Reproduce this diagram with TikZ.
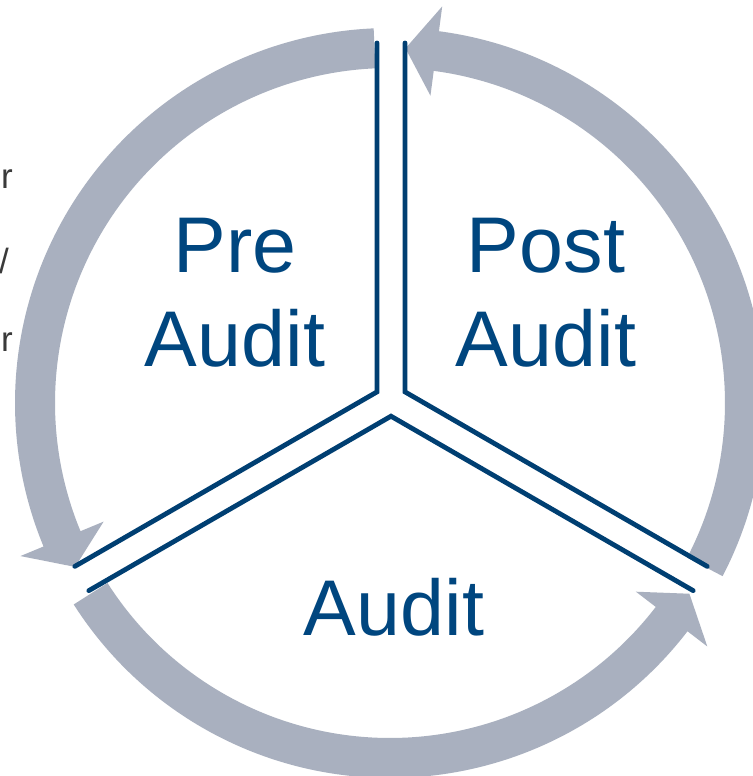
\documentclass[tikz,border=0pt]{standalone}
\usepackage{fontspec}
\setmainfont{Liberation Sans}
\usepackage{xcolor}
\usepackage{tikz}
\usetikzlibrary{calc}
\definecolor{bg}{HTML}{FFFFFF}
\definecolor{ring}{HTML}{A9B0BF}
\definecolor{navy}{HTML}{003F72}
\definecolor{ink}{HTML}{00467F}
\definecolor{muted}{HTML}{3A3A3A}
\tikzset{
  band/.style={fill=ring, draw=none},
  wall/.style={draw=navy, line width=4.8pt, line cap=round, line join=miter},
  lab/.style={text=ink, font=\fontsize{79}{94}\selectfont, align=center, inner sep=0pt},
  edge/.style={text=muted, font=\fontsize{35}{40}\selectfont, inner sep=0pt, anchor=base east},
}

\begin{document}
\begin{tikzpicture}[x=1pt, y=1pt]
  \useasboundingbox[fill=bg] (-390,-373) rectangle (362,403);

  % three arrows round the ring, counter clockwise
  \foreach \t in {-27.5, 92.5, 212.5} {
    \fill[band] (\t:335) arc[start angle=\t, end angle=\t+110, radius=335]
      -- (\t+110:310) -- (\t+115:355) -- (\t+110:400) -- (\t+110:375)
      arc[start angle=\t+110, end angle=\t, radius=375] -- cycle;
  }

  \coordinate (hub) at (1,3);
  \foreach \a in {150, 270, 30} {
    \coordinate (in\a) at ($(hub)+(\a:16.2)$);
    \coordinate (lo\a) at ($(hub)+(\a+30:14)+(\a-60:357)$);
    \coordinate (hi\a) at ($(hub)+(\a-30:14)+(\a+60:357)$);
    \draw[wall] (lo\a) -- (in\a) -- (hi\a);
  }

  \node[lab] (pre) at (-155,110) {Pre\\Audit};
  \node[lab] (post) at (156,110) {Post\\Audit};
  \node[lab, anchor=base] (audit) at (4,-232) {Audit};

  % cut off text at the left edge
  \node[edge] (e1) at (-377,214) {r};
  \node[edge] (e2) at (-381,129) {/};
  \node[edge] (e3) at (-377,51) {r};
\end{tikzpicture}
\end{document}
